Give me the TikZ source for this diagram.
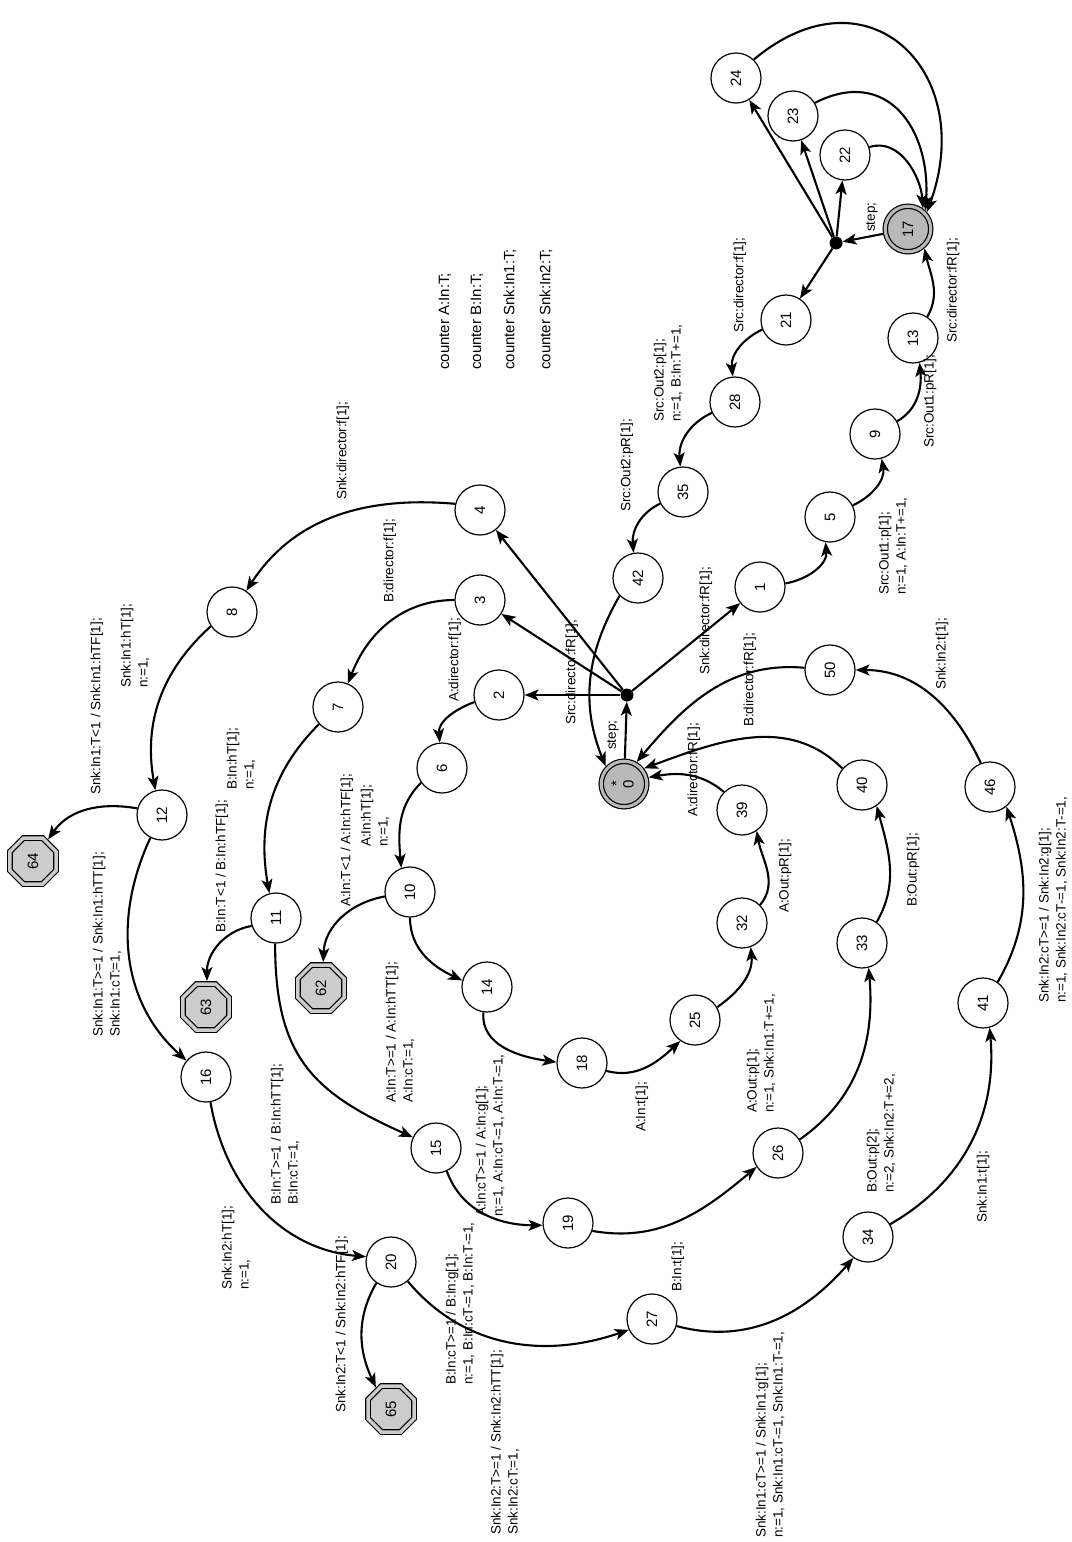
\documentclass[tikz,border=0pt]{standalone}
\usepackage{fontspec}
\setmainfont{Liberation Sans}
\usepackage{graphicx}
\usetikzlibrary{arrows.meta,shapes.geometric}
\newcommand\labfont{\fontsize{13.5}{17}\selectfont}
\newcommand\numfont{\fontsize{15}{18}\selectfont}
\newcommand\cntfont{\fontsize{15}{18}\selectfont}
\newcommand\rnum[1]{\rotatebox{90}{#1}}
\begin{document}
\begin{tikzpicture}[x=1pt,y=1pt,
 st/.style={circle, draw, line width=1.2pt, minimum size=50pt, inner sep=0pt, font=\numfont, fill=white},
 ist/.style={circle, draw, line width=1.2pt, minimum size=45.5pt, inner sep=0pt, font=\numfont, fill=gray!55, double=gray!55, double distance=3.1pt, outer sep=2.75pt},
 oct/.style={regular polygon, regular polygon sides=8, draw, line width=1.2pt, minimum size=49.8pt, inner sep=0pt, font=\numfont, fill=gray!40, double=gray!40, double distance=3.5pt, outer sep=2.95pt},
 dot/.style={circle, fill, inner sep=0pt, minimum size=13pt},
 arr/.style={line width=2.1pt, -{Stealth[length=14pt,width=11pt,inset=3.5pt]}},
 lab/.style={rotate=90, anchor=west, font=\labfont, align=left, inner sep=0pt},
 cnt/.style={rotate=90, anchor=west, font=\cntfont, inner sep=0pt}]
\useasboundingbox (0,0) rectangle (1071,-1542);

% states
\node[st] (n24) at (736,-78) {\rnum{24}};
\node[st] (n23) at (793,-116) {\rnum{23}};
\node[st] (n22) at (845,-155) {\rnum{22}};
\node[ist] (n17) at (908,-229) {\rnum{17}};
\node[dot] (d17) at (836,-243) {};
\node[st] (n21) at (786,-320) {\rnum{21}};
\node[st] (n13) at (913,-338) {\rnum{13}};
\node[st] (n28) at (735,-402) {\rnum{28}};
\node[st] (n9) at (875,-434) {\rnum{9}};
\node[st] (n35) at (683,-492) {\rnum{35}};
\node[st] (n5) at (830,-517) {\rnum{5}};
\node[st] (n42) at (638,-578) {\rnum{42}};
\node[st] (n4) at (480,-510) {\rnum{4}};
\node[st] (n3) at (480,-600) {\rnum{3}};
\node[st] (n2) at (499,-695) {\rnum{2}};
\node[dot] (d0) at (627,-695) {};
\node[st] (n1) at (760,-587) {\rnum{1}};
\node[st] (n50) at (830,-670) {\rnum{50}};
\node[ist] (n0) at (624,-784) {\rnum{\begin{tabular}{@{}c@{}}*\\[-6pt]0\end{tabular}}};
\node[st] (n8) at (232,-612) {\rnum{8}};
\node[st] (n7) at (338,-707) {\rnum{7}};
\node[st] (n6) at (442,-768) {\rnum{6}};
\node[st] (n12) at (162,-815) {\rnum{12}};
\node[oct] (n64) at (33,-861) {\rnum{64}};
\node[st] (n11) at (276,-918) {\rnum{11}};
\node[oct] (n63) at (206,-1007) {\rnum{63}};
\node[oct] (n62) at (321,-988) {\rnum{62}};
\node[st] (n16) at (206,-1077) {\rnum{16}};
\node[st] (n10) at (410,-892) {\rnum{10}};
\node[st] (n14) at (487,-987) {\rnum{14}};
\node[st] (n18) at (582,-1063) {\rnum{18}};
\node[st] (n25) at (695,-1020) {\rnum{25}};
\node[st] (n15) at (436,-1148) {\rnum{15}};
\node[st] (n32) at (742,-923) {\rnum{32}};
\node[st] (n39) at (742,-810) {\rnum{39}};
\node[st] (n33) at (862,-943) {\rnum{33}};
\node[st] (n40) at (862,-785) {\rnum{40}};
\node[st] (n46) at (990,-787) {\rnum{46}};
\node[st] (n41) at (983,-1003) {\rnum{41}};
\node[st] (n26) at (778,-1153) {\rnum{26}};
\node[st] (n19) at (568,-1223) {\rnum{19}};
\node[st] (n20) at (391,-1262) {\rnum{20}};
\node[st] (n27) at (652,-1319) {\rnum{27}};
\node[oct] (n65) at (391,-1409) {\rnum{65}};
\node[st] (n34) at (868,-1237) {\rnum{34}};

% counters
\node[cnt] (c1) at (445,-370) {counter A:In:T;};
\node[cnt] (c2) at (477,-370) {counter B:In:T;};
\node[cnt] (c3) at (510,-370) {counter Snk:In1:T;};
\node[cnt] (c4) at (546,-370) {counter Snk:In2:T;};

% edges
\draw[arr] (n17) -- (d17);
\draw[arr] (d17) -- (n21);
\draw[arr] (d17) -- (n22);
\draw[arr] (d17) -- (n23);
\draw[arr] (d17) -- (n24);
\draw[arr] (n22.18) to[out=18,in=94] (n17.54);
\draw[arr] (n23.31) to[out=27,in=86,looseness=1.35] (n17.47);
\draw[arr] (n24.46) to[out=40,in=70,looseness=1.65] (n17.42);
\draw[arr] (n13.56) to[out=60,in=-77] (n17.-50);
\draw[arr] (n21.202) to[out=205,in=96] (n28.95);
\draw[arr] (n28.205) to[out=205,in=95] (n35.96);
\draw[arr] (n35.207) to[out=205,in=95] (n42.100);
\draw[arr] (n42.224) to[out=240,in=112] (n0.136);
\draw[arr] (n0) -- (d0);
\draw[arr] (d0) -- (n1);
\draw[arr] (d0) -- (n2);
\draw[arr] (d0) -- (n3);
\draw[arr] (d0) -- (n4);
\draw[arr] (n1.8) to[out=10,in=-85] (n5.-100);
\draw[arr] (n5.27) to[out=25,in=-80] (n9.-75);
\draw[arr] (n9.30) to[out=30,in=-85] (n13.-75);
\draw[arr] (n2.196) to[out=200,in=95] (n6.95);
\draw[arr] (n3.180) to[out=180,in=69] (n7.67);
\draw[arr] (n4.166) to[out=175,in=57] (n8.56);
\draw[arr] (n8.214) to[out=222,in=100] (n12.105);
\draw[arr] (n12.165) to[out=170,in=55] (n64.55);
\draw[arr] (n12.243) to[out=245,in=138] (n16.140);
\draw[arr] (n7.222) to[out=225,in=100] (n11.105);
\draw[arr] (n11.198) to[out=190,in=90] (n63.88);
\draw[arr] (n11.268) to[out=270,in=156,looseness=1.2] (n15.155);
\draw[arr] (n6.215) to[out=225,in=95] (n10.110);
\draw[arr] (n10.190) to[out=190,in=88] (n62.85);
\draw[arr] (n10.270) to[out=270,in=155] (n14.165);
\draw[arr] (n14.262) to[out=265,in=172] (n18.178);
\draw[arr] (n18.-18) to[out=-15,in=223] (n25.-125);
\draw[arr] (n25.30) to[out=35,in=-85] (n32.-70);
\draw[arr] (n32.45) to[out=50,in=-80] (n39.-55);
\draw[arr] (n39.135) to[out=140,in=10] (n0.15);
\draw[arr] (n40.140) to[out=135,in=20] (n0.38);
\draw[arr] (n50.175) to[out=175,in=50] (n0.60);
\draw[arr] (n33.55) to[out=60,in=-75] (n40.-55);
\draw[arr] (n26.32) to[out=35,in=-85] (n33.-75);
\draw[arr] (n19.-18) to[out=-10,in=220] (n26.213);
\draw[arr] (n15.-65) to[out=-70,in=180] (n19.185);
\draw[arr] (n16.-80) to[out=-80,in=175] (n20.168);
\draw[arr] (n20.235) to[out=240,in=115] (n65.125);
\draw[arr] (n20.-49) to[out=-50,in=199] (n27.205);
\draw[arr] (n27.-16) to[out=-15,in=229] (n34.-125);
\draw[arr] (n34.30) to[out=30,in=-85] (n41.-75);
\draw[arr] (n41.55) to[out=60,in=-72] (n46.-50);
\draw[arr] (n46.111) to[out=115,in=0] (n50.0);

% labels
\node[lab] (l1) at (872,-232) {step;};
\node[lab] (l2) at (953,-343) {Src:director:fR[1];};
\node[lab] (l3) at (740,-333) {Src:director:f[1];};
\node[lab] (l4) at (930,-448) {Src:Out1:pR[1];};
\node[lab] (l5) at (893,-595) {Src:Out1:p[1];\\n:=1, A:In:T+=1,};
\node[lab] (l6) at (668,-422) {Src:Out2:p[1];\\n:=1, B:In:T+=1,};
\node[lab] (l7) at (627,-512) {Src:Out2:pR[1];};
\node[lab] (l8) at (572,-725) {Src:director:fR[1];};
\node[lab] (l9) at (613,-750) {step;};
\node[lab] (l10) at (455,-702) {A:director:f[1];};
\node[lab] (l11) at (390,-603) {B:director:f[1];};
\node[lab] (l12) at (343,-500) {Snk:director:f[1];};
\node[lab] (l13) at (135,-688) {Snk:In1:hT[1];\\n:=1,};
\node[lab] (l14) at (97,-795) {Snk:In1:T<1 / Snk:In1:hTF[1];};
\node[lab] (l15) at (107,-1037) {Snk:In1:T>=1 / Snk:In1:hTT[1];\\Snk:In1:cT:=1,};
\node[lab] (l16) at (241,-790) {B:In:hT[1];\\n:=1,};
\node[lab] (l17) at (222,-933) {B:In:T<1 / B:In:hTF[1];};
\node[lab] (l18) at (285,-1205) {B:In:T>=1 / B:In:hTT[1];\\B:In:cT:=1,};
\node[lab] (l19) at (375,-847) {A:In:hT[1];\\n:=1,};
\node[lab] (l20) at (347,-907) {A:In:T<1 / A:In:hTF[1];};
\node[lab] (l21) at (400,-1103) {A:In:T>=1 / A:In:hTT[1];\\A:In:cT:=1,};
\node[lab] (l22) at (490,-1217) {A:In:cT>=1 / A:In:g[1];\\n:=1, A:In:cT-=1, A:In:T-=1,};
\node[lab] (l23) at (642,-1132) {A:In:t[1];};
\node[lab] (l24) at (761,-1113) {A:Out:p[1];\\n:=1, Snk:In1:T+=1,};
\node[lab] (l25) at (785,-913) {A:Out:pR[1];};
\node[lab] (l26) at (913,-907) {B:Out:pR[1];};
\node[lab] (l27) at (881,-1193) {B:Out:p[2];\\n:=2, Snk:In2:T+=2,};
\node[lab] (l28) at (1053,-1003) {Snk:In2:cT>=1 / Snk:In2:g[1];\\n:=1, Snk:In2:cT-=1, Snk:In2:T-=1,};
\node[lab] (l29) at (983,-1223) {Snk:In1:t[1];};
\node[lab] (l30) at (942,-690) {Snk:In2:t[1];};
\node[lab] (l31) at (770,-1538) {Snk:In1:cT>=1 / Snk:In1:g[1];\\n:=1, Snk:In1:cT-=1, Snk:In1:T-=1,};
\node[lab] (l32) at (460,-1385) {B:In:cT>=1 / B:In:g[1];\\n:=1, B:In:cT-=1, B:In:T-=1,};
\node[lab] (l33) at (678,-1292) {B:In:t[1];};
\node[lab] (l34) at (236,-1290) {Snk:In2:hT[1];\\n:=1,};
\node[lab] (l35) at (342,-1413) {Snk:In2:T<1 / Snk:In2:hTF[1];};
\node[lab] (l36) at (505,-1535) {Snk:In2:T>=1 / Snk:In2:hTT[1];\\Snk:In2:cT:=1,};
\node[lab] (l37) at (706,-675) {Snk:director:fR[1];};
\node[lab] (l38) at (694,-817) {A:director:fR[1];};
\node[lab] (l39) at (750,-727) {B:director:fR[1];};
\end{tikzpicture}
\end{document}
